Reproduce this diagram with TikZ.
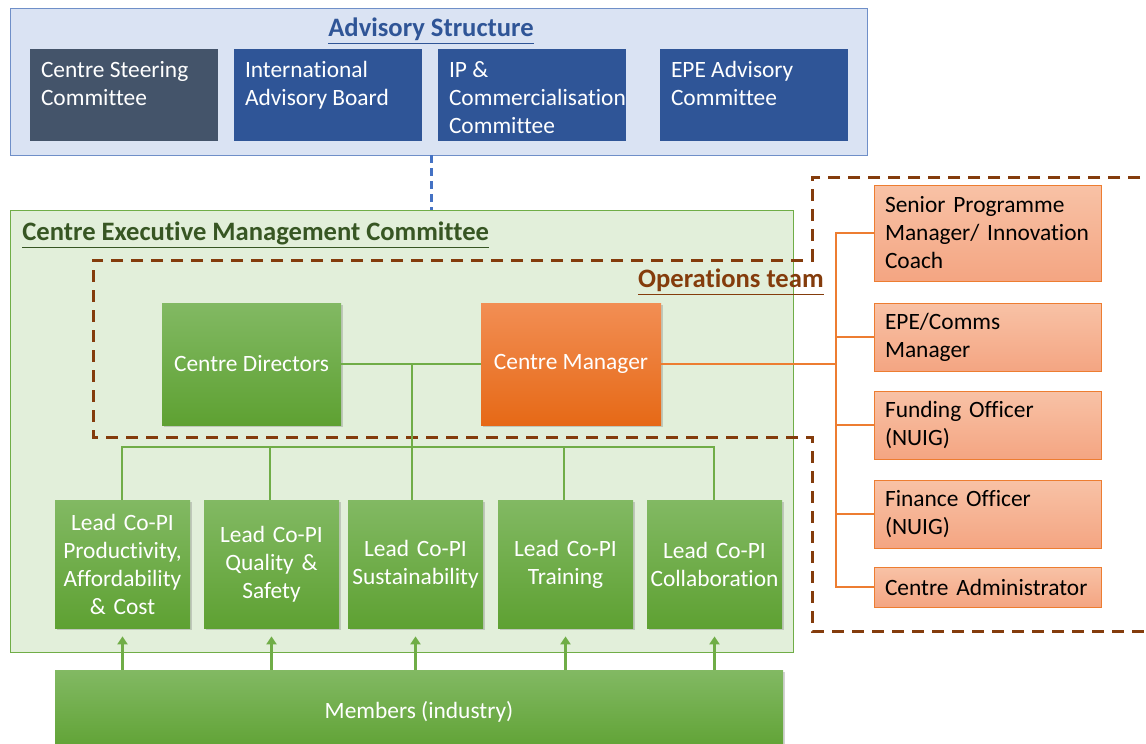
\documentclass[tikz,border=0pt]{standalone}
\usepackage{fontspec}
\setmainfont{Carlito}[Ligatures={NoCommon}]
\usetikzlibrary{arrows.meta,shadows}

\definecolor{advfill}{HTML}{DAE3F3}
\definecolor{advdraw}{HTML}{6F8FC8}
\definecolor{advtext}{HTML}{2F5597}
\definecolor{steerfill}{HTML}{44546A}
\definecolor{bluefill}{HTML}{2F5597}
\definecolor{cemfill}{HTML}{E2EFDA}
\definecolor{cemdraw}{HTML}{70AD47}
\definecolor{cemtext}{HTML}{375623}
\definecolor{opsbrown}{HTML}{843C0C}
\definecolor{greentop}{HTML}{82B963}
\definecolor{greenbot}{HTML}{5EA132}
\definecolor{orangetop}{HTML}{F28E54}
\definecolor{orangebot}{HTML}{E66916}
\definecolor{salmontop}{HTML}{F8C2A6}
\definecolor{salmonbot}{HTML}{F4A582}
\definecolor{orangeline}{HTML}{ED7D31}
\definecolor{greenline}{HTML}{70AD47}
\definecolor{blueline}{HTML}{4472C4}

% text set from the top of an advisory box
\newcommand{\advlines}[1]{\parbox[c][46pt][t]{83pt}{\raggedright\vspace*{4.5pt}\strut#1}}

\begin{document}
\begin{tikzpicture}[x=0.5pt,y=-0.5pt,
	every node/.style={font=\fontsize{11.7}{14}\selectfont},
	advbox/.style={text=white, minimum width=94pt, minimum height=46pt, inner xsep=5.5pt, inner ysep=0pt},
	headline/.style={font=\fontsize{13.3}{15}\selectfont\bfseries, inner sep=0pt},
	greenbox/.style={top color=greentop, bottom color=greenbot, text=white, drop shadow={opacity=0.35, shadow xshift=1pt, shadow yshift=-1pt}},
	leadbox/.style={greenbox, minimum width=67.5pt, minimum height=64pt, text width=65.5pt, inner xsep=1pt, align=center},
	staffbox/.style={draw=orangeline, top color=salmontop, bottom color=salmonbot, minimum width=113.5pt, text width=102.5pt, inner xsep=5.5pt, align=left},
	gline/.style={draw=greenline, line width=1pt},
	oline/.style={draw=orangeline, line width=1pt}
]
	\useasboundingbox (0,0) rectangle (1146,744);

	% advisory structure
	\node[fill=advfill, draw=advdraw, minimum width=428.5pt, minimum height=73.5pt] (adv) at (438.5, 81.5) {};
	\node[headline, text=advtext] (advtitle) at (431, 31) {\underline{Advisory Structure}};

	\node[advbox, fill=steerfill] (steer) at (124, 95) {\advlines{Centre Steering\\Committee}};
	\node[advbox, fill=bluefill] (iab) at (328, 95) {\advlines{International\\Advisory Board}};
	\node[advbox, fill=bluefill] (ipc) at (532, 95) {\advlines{IP \&\\Commercialisation\\Committee}};
	\node[advbox, fill=bluefill] (epe) at (754, 95) {\advlines{EPE Advisory\\Committee}};

	% executive committee
	\node[fill=cemfill, draw=cemdraw, minimum width=391.5pt, minimum height=221pt] (cem) at (401.5, 431) {};
	\node[headline, text=cemtext, anchor=west] (cemtitle) at (22, 235) {\underline{Centre Executive Management Committee}};

	\draw[blueline, line width=1.5pt, dash pattern=on 4pt off 2.5pt] (advtitle |- adv.south) -- (advtitle |- cem.north);

	% operations team
	\draw[opsbrown, line width=1.5pt, dash pattern=on 6pt off 4pt]
		(1160,177) -- (812,177) -- (812,260) -- (93,260) -- (93,437) -- (812,437) -- (812,631) -- (1160,631);
	\node[headline, text=opsbrown, anchor=east] (opstitle) at (824, 282) {\underline{Operations team}};

	\node[greenbox, minimum width=89.5pt, minimum height=61pt] (dir) at (251.5, 364) {Centre Directors};
	\node[greenbox, top color=orangetop, bottom color=orangebot, minimum width=90pt, minimum height=61pt] (mgr) at (571, 364) {Centre Manager};

	% lead co-pis
	\node[leadbox] (lead1) at (122.5, 564) {Lead Co-PI\\Productivity,\\Affordability\\\& Cost};
	\node[leadbox] (lead2) at (271.5, 564) {Lead Co-PI\\Quality \&\\Safety};
	\node[leadbox] (lead3) at (415.5, 564) {Lead Co-PI\\Sustainability};
	\node[leadbox] (lead4) at (565.5, 564) {Lead Co-PI\\Training};
	\node[leadbox] (lead5) at (714.5, 564) {Lead Co-PI\\Collaboration};

	\node[greenbox, minimum width=364pt, minimum height=42pt] (members) at (419, 712) {Members (industry)};

	% staff
	\node[staffbox, minimum height=48pt] (senior) at (987.5, 233) {Senior Programme\\Manager/ Innovation\\Coach};
	\node[staffbox, minimum height=34pt] (comms) at (987.5, 337) {EPE/Comms\\Manager};
	\node[staffbox, minimum height=34pt] (funding) at (987.5, 425) {Funding Officer\\(NUIG)};
	\node[staffbox, minimum height=34pt] (finance) at (987.5, 514) {Finance Officer\\(NUIG)};
	\node[staffbox, minimum height=20pt] (admin) at (987.5, 587) {Centre Administrator};

	\coordinate (bar) at (0, 447);
	\coordinate (spine) at (836, 0);

	\draw[gline] (dir.east) -- (mgr.west);
	\draw[gline] ([xshift=-2pt]dir.east -| lead3.north) -- ([xshift=-2pt]lead3.north);
	\draw[gline] ([xshift=-0.5pt]lead1.north) |- ([xshift=-0.5pt]bar -| lead5.north) -- ([xshift=-0.5pt]lead5.north);
	\foreach \i in {2,4}
		\draw[gline] ([xshift=-1pt]lead\i.north) -- ([xshift=-1pt]lead\i.north |- bar);

	\foreach \i in {1,...,5}
		\draw[-{Triangle[width=5pt,length=4pt]}, greenline, line width=1.2pt, shorten >=4pt] (members.north -| lead\i.south) -- (lead\i.south);

	\draw[oline] (mgr.east) -- (mgr.east -| spine);
	\draw[oline] (senior.west) -- (senior.west -| spine) -- (admin.west -| spine) -- (admin.west);
	\foreach \s in {comms,funding,finance}
		\draw[oline] (\s.west -| spine) -- (\s.west);

\end{tikzpicture}
\end{document}
